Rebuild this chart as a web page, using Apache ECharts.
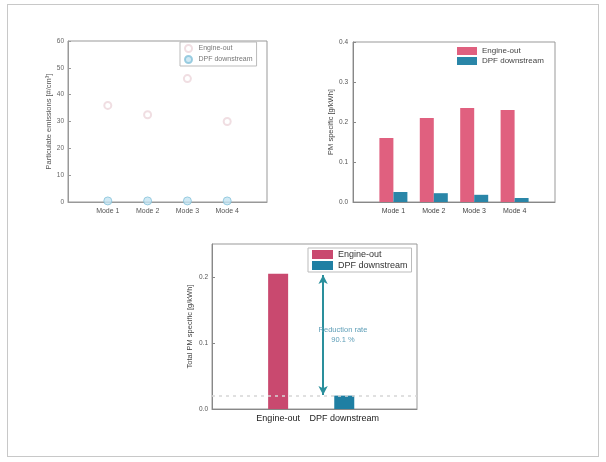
<!DOCTYPE html>
<html><head><meta charset="utf-8">
<script src="https://cdn.jsdelivr.net/npm/echarts@6/dist/echarts.min.js"></script>
<style>
html,body{margin:0;padding:0;background:#fff;width:606px;height:462px;overflow:hidden}
.c{position:absolute;left:0;top:0;width:606px;height:462px}
#frame{position:absolute;left:7px;top:4px;width:590px;height:451px;border:1px solid #c8c8c8}
</style></head><body>
<div id="frame"></div>
<div id="c1" class="c"></div><div id="c2" class="c"></div><div id="c3" class="c"></div>
<script>
// ---- data ----
const modes = ['Mode 1', 'Mode 2', 'Mode 3', 'Mode 4'];
const pnEngineOut = [36, 32.5, 46, 30];
const pnDPF = [0.4, 0.4, 0.4, 0.4];
const pmEngineOut = [0.16, 0.21, 0.235, 0.23];
const pmDPF = [0.025, 0.022, 0.018, 0.01];
const totalCats = ['Engine-out', 'DPF downstream'];
const totalEngineOut = [0.205];
const totalDPF = [0.0203];
const reductionRateLabel = 'Reduction rate\n90.1 %';
const pnTicks = [0, 60, 10];
const pmTicks = [0, 0.4, 0.1];
const totalTicks = [0, 0.25, 0.1];

const FONT = 'Liberation Sans';
const PINK = '#e0607f';
const BLUE = '#2a86a8';
const padCats = [' '].concat(modes, ['  ']);

function baseText(size, color) { return { fontFamily: FONT, fontSize: size, color: color }; }

// ---- chart 1 ----
const c1 = echarts.init(document.getElementById('c1'), null, { renderer: 'canvas' });
c1.setOption({
  animation: false,
  grid: { left: 68, top: 41, width: 199, height: 161, show: true, borderColor: '#999', borderWidth: 1 },
  legend: {
    orient: 'vertical', left: 180, top: 42, itemWidth: 10, itemHeight: 7, itemGap: 2,
    padding: [2, 4], borderColor: '#bbb', borderWidth: 1, backgroundColor: '#fff',
    textStyle: baseText(7, '#777')
  },
  xAxis: {
    type: 'category', data: padCats, boundaryGap: false,
    axisLine: { lineStyle: { color: '#999' } }, axisTick: { show: false },
    axisLabel: Object.assign(baseText(7, '#555'), { interval: 0, margin: 6 })
  },
  yAxis: {
    type: 'value', min: pnTicks[0], max: pnTicks[1], interval: pnTicks[2],
    name: 'Particulate emissions [#/cm³]', nameLocation: 'middle', nameGap: 14,
    nameTextStyle: baseText(7.5, '#555'),
    splitLine: { show: false },
    axisLine: { show: true, lineStyle: { color: '#999' } },
    axisTick: { show: true, inside: true, length: 3, lineStyle: { color: '#999' } },
    axisLabel: Object.assign(baseText(6.5, '#666'), { margin: 4 })
  },
  series: [
    { name: 'Engine-out', type: 'scatter', symbol: 'emptyCircle', symbolSize: 7,
      itemStyle: { color: '#ecd6db', borderColor: '#e6ccd2' },
      data: modes.map((m, i) => [m, pnEngineOut[i]]) },
    { name: 'DPF downstream', type: 'scatter', symbol: 'circle', symbolSize: 8,
      itemStyle: { color: '#c4e3f1', borderColor: '#84c2da', borderWidth: 1 },
      data: modes.map((m, i) => [m, pnDPF[i]]) }
  ]
});

// ---- chart 2 ----
const c2 = echarts.init(document.getElementById('c2'));
c2.setOption({
  animation: false,
  grid: { left: 353, top: 42, width: 202, height: 160, show: true, borderColor: '#999', borderWidth: 1 },
  legend: {
    orient: 'vertical', left: 455, top: 45, itemWidth: 20, itemHeight: 8, itemGap: 2, icon: 'rect',
    padding: [2, 2], textStyle: baseText(8, '#444')
  },
  xAxis: {
    type: 'category', data: padCats, boundaryGap: false,
    axisLine: { lineStyle: { color: '#888' } }, axisTick: { show: false },
    axisLabel: Object.assign(baseText(7, '#444'), { interval: 0, margin: 6 })
  },
  yAxis: {
    type: 'value', min: pmTicks[0], max: pmTicks[1], interval: pmTicks[2],
    name: 'PM specific [g/kWh]', nameLocation: 'middle', nameGap: 16,
    nameTextStyle: baseText(7.5, '#444'),
    splitLine: { show: false },
    axisLine: { show: true, lineStyle: { color: '#888' } },
    axisTick: { show: true, inside: true, length: 3, lineStyle: { color: '#888' } },
    axisLabel: Object.assign(baseText(6.5, '#555'), { margin: 5, formatter: v => v.toFixed(1) })
  },
  series: [
    { name: 'Engine-out', type: 'bar', barWidth: 14, barGap: '0%', itemStyle: { color: PINK },
      data: modes.map((m, i) => [m, pmEngineOut[i]]) },
    { name: 'DPF downstream', type: 'bar', barWidth: 14, barGap: '0%', itemStyle: { color: BLUE },
      data: modes.map((m, i) => [m, pmDPF[i]]) }
  ]
});

// ---- chart 3 ----
const c3 = echarts.init(document.getElementById('c3'));
c3.setOption({
  animation: false,
  grid: { left: 212, top: 244, width: 205, height: 165, show: true, borderColor: '#999', borderWidth: 1 },
  legend: {
    orient: 'vertical', left: 308, top: 248, itemWidth: 21, itemHeight: 9, itemGap: 2, icon: 'rect',
    padding: [2, 4], borderColor: '#bbb', borderWidth: 1, backgroundColor: '#fff',
    textStyle: baseText(9, '#333')
  },
  xAxis: {
    type: 'value', min: 0, max: 3.1, interval: 1,
    splitLine: { show: false },
    axisLine: { lineStyle: { color: '#888' } }, axisTick: { show: false },
    axisLabel: Object.assign(baseText(9, '#222'), {
      margin: 5, showMaxLabel: false,
      formatter: v => (v === 1 ? totalCats[0] : v === 2 ? totalCats[1] : '')
    })
  },
  yAxis: {
    type: 'value', min: totalTicks[0], max: totalTicks[1], interval: totalTicks[2],
    name: 'Total PM specific [g/kWh]', nameLocation: 'middle', nameGap: 18,
    nameTextStyle: baseText(7.5, '#444'),
    splitLine: { show: false },
    axisLine: { show: true, lineStyle: { color: '#888' } },
    axisTick: { show: true, inside: true, length: 3, lineStyle: { color: '#888' } },
    axisLabel: Object.assign(baseText(6.5, '#555'), { margin: 4, showMaxLabel: false, formatter: v => v.toFixed(1) })
  },
  series: [
    { name: 'Engine-out', type: 'bar', barWidth: 20, barGap: '-100%', itemStyle: { color: '#c9496f' },
      data: [[1, totalEngineOut[0]]],
      markLine: {
        silent: true, symbol: ['none', 'none'], label: { show: false },
        lineStyle: { type: [3, 4], color: '#d6d6d6', width: 1.5 },
        data: [{ yAxis: totalDPF[0] }]
      }
    },
    { name: 'DPF downstream', type: 'bar', barWidth: 20, barGap: '-100%', itemStyle: { color: '#1f7fa3' },
      data: [[2, totalDPF[0]]],
      markLine: {
        silent: true, symbol: ['arrow', 'arrow'], symbolSize: [7, 9], label: { show: false },
        lineStyle: { type: 'solid', color: '#2a8f9c', width: 2 },
        data: [[{ coord: [1.68, totalEngineOut[0] - 0.002] }, { coord: [1.68, totalDPF[0] + 0.001] }]]
      },
      markPoint: {
        silent: true, symbolSize: 0,
        label: Object.assign(baseText(7.5, '#5f9fb8'), { show: true, formatter: reductionRateLabel, lineHeight: 10, align: 'center' }),
        data: [{ coord: [1.98, 0.112] }]
      }
    }
  ]
});
</script>
</body></html>
